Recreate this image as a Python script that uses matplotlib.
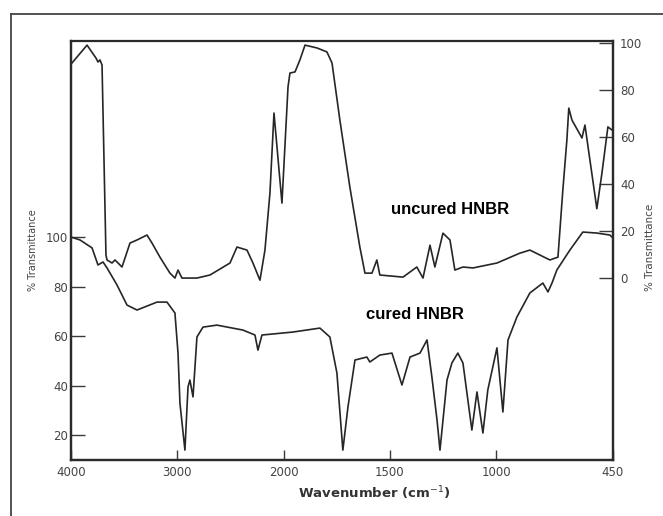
import numpy as np
import matplotlib
matplotlib.use("Agg")
import matplotlib.pyplot as plt

# Uncured HNBR spectrum (right-hand % transmittance scale)
uncured_wn = [4000, 3849, 3765, 3746, 3727, 3708, 3671, 3661, 3614, 3586, 3520, 3445,
              3379, 3285, 3238, 3163, 3069, 3022, 2993, 2956, 2815, 2692, 2504, 2438,
              2344, 2288, 2222, 2175, 2128, 2090, 2015, 1979, 1970, 1946, 1923, 1899,
              1843, 1796, 1772, 1735, 1688, 1641, 1617, 1584, 1561, 1547, 1438, 1373,
              1344, 1311, 1288, 1250, 1217, 1194, 1156, 1109, 996, 888, 841, 747, 709,
              686, 667, 658, 643, 596, 582, 526, 502, 474, 455]
uncured_t = [91.0, 99.1, 93.6, 91.9, 92.8, 90.6, 9.8, 7.7, 6.4, 7.7, 4.7, 14.9,
             16.2, 18.3, 14.9, 8.9, 2.1, 0.0, 3.4, 0.0, 0.0, 1.3, 6.4, 13.2,
             11.9, 6.4, -0.9, 11.9, 36.2, 70.2, 31.9, 81.3, 87.2, 87.7, 92.8, 99.1,
             97.9, 96.2, 91.5, 67.2, 38.7, 13.2, 2.1, 2.1, 7.7, 1.3, 0.4, 4.7,
             0.0, 14.0, 4.7, 19.1, 16.2, 3.4, 4.7, 4.3, 6.4, 10.6, 11.9, 7.7, 8.9,
             37.4, 58.7, 72.3, 67.2, 59.6, 65.1, 29.5, 44.7, 64.3, 63.0]

# Cured HNBR spectrum (left-hand % transmittance scale)
cured_wn = [4000, 3915, 3802, 3746, 3699, 3661, 3567, 3473, 3379, 3191, 3097, 3022,
            2993, 2975, 2928, 2899, 2881, 2852, 2815, 2758, 2627, 2382, 2269, 2241,
            2203, 1956, 1829, 1782, 1749, 1721, 1697, 1664, 1608, 1594, 1547, 1490,
            1443, 1405, 1358, 1325, 1302, 1278, 1264, 1231, 1208, 1180, 1156, 1114,
            1090, 1062, 1039, 996, 968, 944, 902, 841, 780, 756, 737, 714, 653,
            592, 526, 465, 450]
cured_t = [100.0, 98.8, 95.6, 88.7, 89.9, 87.5, 80.6, 72.5, 70.5, 73.7, 73.7, 69.3,
           53.1, 32.9, 13.9, 39.4, 42.2, 35.4, 59.6, 63.6, 64.4, 62.4, 60.4, 54.3,
           60.4, 61.6, 63.2, 59.6, 45.1, 13.9, 31.3, 50.3, 51.5, 49.5, 52.3, 53.1,
           40.2, 51.5, 53.1, 58.4, 43.4, 26.1, 13.9, 42.2, 49.1, 53.1, 49.1, 22.0,
           37.4, 20.8, 38.2, 55.2, 29.3, 58.4, 67.7, 77.4, 81.4, 77.8, 81.4, 86.7, 94.7,
           102.0, 101.6, 100.8, 99.6]

x_ticks = [4000, 3000, 2000, 1500, 1000, 450]
left_ticks = [20, 40, 60, 80, 100]
right_ticks = [0, 20, 40, 60, 80, 100]


# Wavenumber axis: 2000-450 cm-1 is drawn at twice the spread of 4000-2000 cm-1
def fwd(w):
    w = np.asarray(w, dtype=float)
    return np.where(w >= 2000, w, 2 * w - 2000)


def inv(y):
    y = np.asarray(y, dtype=float)
    return np.where(y >= 2000, y, (y + 2000) / 2)


W, H = 663, 516
fig = plt.figure(figsize=(W / 100, H / 100), dpi=100)
fig.patch.set_facecolor("white")

# thin outer frame (top and left edges)
fig.add_artist(plt.Line2D([11 / W, 1.0], [1 - 14 / H, 1 - 14 / H], color="#444444", lw=1.3))
fig.add_artist(plt.Line2D([11 / W, 11 / W], [0, 1 - 14 / H], color="#444444", lw=1.3))

L, R, T, B = 71, 613, 41, 460
ax = fig.add_axes([L / W, 1 - B / H, (R - L) / W, (B - T) / H])
ax.set_xscale("function", functions=(fwd, inv))
ax.set_xlim(4000, 450)
ax.set_ylim(9.9, 179.2)

ax2 = ax.twinx()
ax2.set_ylim(-77.4, 100.85)

line_col = "#262626"
ax.plot(cured_wn, cured_t, color=line_col, lw=1.2)
ax2.plot(uncured_wn, uncured_t, color=line_col, lw=1.2)

tick_col = "#3a3a3a"
tick_font = dict(family="DejaVu Sans", size=8.5, color="#444444")

ax.set_xticks(x_ticks)
ax.set_xticklabels([str(v) for v in x_ticks], **tick_font)
ax.xaxis.set_minor_locator(matplotlib.ticker.NullLocator())
ax.set_yticks(left_ticks)
ax.set_yticklabels([str(v) for v in left_ticks], **tick_font)
ax2.set_yticks(right_ticks)
ax2.set_yticklabels([str(v) for v in right_ticks], **tick_font)

ax.tick_params(axis="x", direction="in", length=7, width=1.0, color=tick_col, pad=4,
               top=False)
ax.tick_params(axis="y", direction="in", length=10, width=1.0, color=tick_col, pad=2)
ax2.tick_params(axis="y", direction="in", length=10, width=1.0, color=tick_col, pad=5)

for a in (ax, ax2):
    for s in a.spines.values():
        s.set_color("#2a2a2a")
        s.set_linewidth(1.6)
ax.spines["top"].set_color("#555555")
ax.spines["top"].set_linewidth(1.3)

ax.set_ylabel("% Transmittance", fontsize=7, color="#444444", labelpad=6)

# axis titles placed in figure pixels
fig.text(374 / W, 1 - 493 / H, "Wavenumber (cm$^{-1}$)", fontsize=9.5, color="#333333",
         fontweight="semibold", ha="center", va="center")
fig.text(650 / W, 1 - 247 / H, "% Transmittance", fontsize=7.5, color="#444444",
         rotation=90, ha="center", va="center")

label_font = ["Liberation Sans", "DejaVu Sans"]
ax.text(1215, 111, "uncured HNBR", family=label_font, fontweight="bold", fontsize=12,
        ha="center", va="center", color="black")
ax.text(1382, 68.5, "cured HNBR", family=label_font, fontweight="bold", fontsize=12,
        ha="center", va="center", color="black")

fig.savefig("out.png", dpi=100, facecolor="white")
